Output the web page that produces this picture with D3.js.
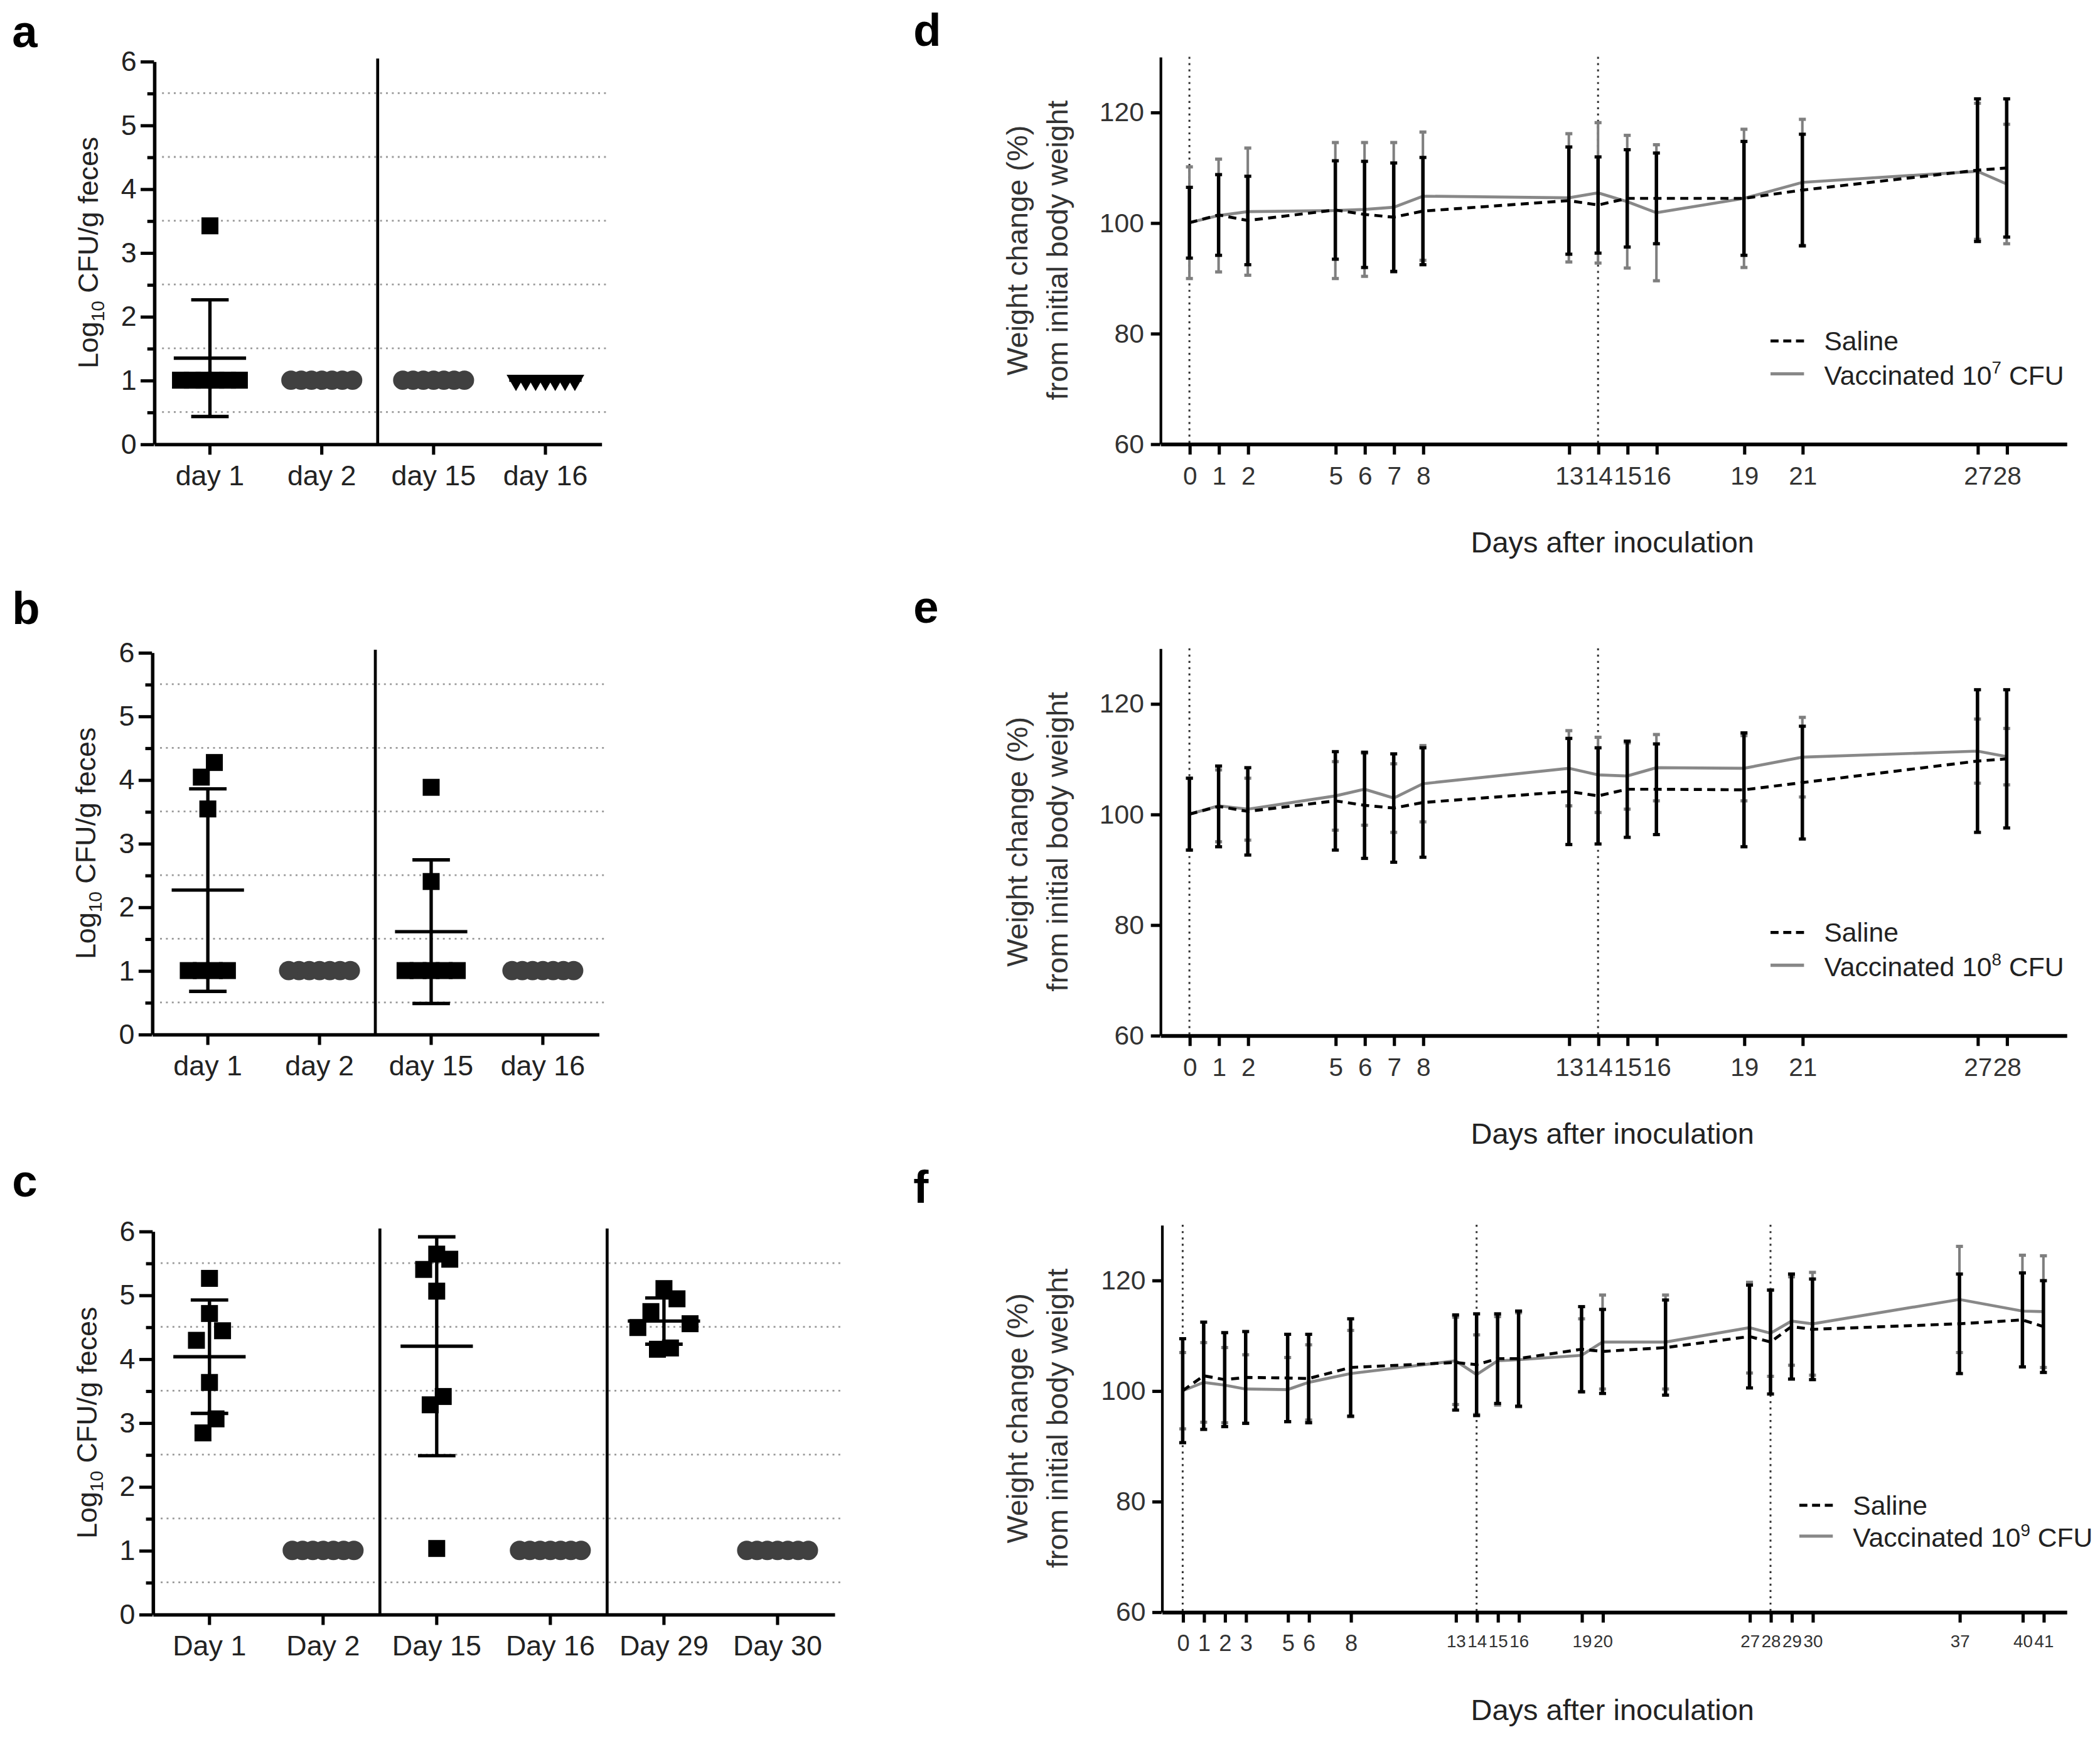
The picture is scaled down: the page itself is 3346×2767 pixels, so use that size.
<!DOCTYPE html>
<html>
<head>
<meta charset="utf-8">
<script src="https://cdn.jsdelivr.net/npm/d3@7"></script>
<style>
  body { margin: 0; background: #fff; }
  text { font-family: "Liberation Sans", Arial, sans-serif; }
</style>
</head>
<body>
<script>
// ---- data: faecal shedding (log10 CFU/g), one array per sampling day ----
var daysAB = ["day 1", "day 2", "day 15", "day 16"];
var daysC = ["Day 1", "Day 2", "Day 15", "Day 16", "Day 29", "Day 30"];

var cfuA = [
  [3.42, 1, 1, 1, 1, 1, 1],
  [1, 1, 1, 1, 1, 1, 1],
  [1, 1, 1, 1, 1, 1, 1],
  [1, 1, 1, 1, 1, 1, 1]
];
var cfuB = [
  [4.27, 4.04, 3.54, 1, 1, 1, 1],
  [1, 1, 1, 1, 1, 1, 1],
  [3.88, 2.40, 1, 1, 1, 1, 1],
  [1, 1, 1, 1, 1, 1, 1]
];
var cfuC = [
  [5.26, 4.71, 4.44, 4.29, 3.63, 3.06, 2.84],
  [1, 1, 1, 1, 1, 1, 1],
  [5.64, 5.56, 5.40, 5.06, 3.41, 3.28, 1.03],
  [1, 1, 1, 1, 1, 1, 1],
  [5.10, 4.94, 4.74, 4.55, 4.49, 4.17, 4.15],
  [1, 1, 1, 1, 1, 1, 1]
];
var markA = ["square", "dot", "dot", "triangle"];
var markB = ["square", "dot", "square", "dot"];
var markC = ["square", "dot", "square", "dot", "square", "dot"];
var cfuTicks = [0, 1, 2, 3, 4, 5, 6];
var cfuGrid = [0.5, 1.5, 2.5, 3.5, 4.5, 5.5];

// ---- data: body weight (% of initial), mean and SD ----
var daysDE = [0, 1, 2, 5, 6, 7, 8, 13, 14, 15, 16, 19, 21, 27, 28];
var daysF = [0, 1, 2, 3, 5, 6, 8, 13, 14, 15, 16, 19, 20, 23, 27, 28, 29, 30, 37, 40, 41];
var tickDaysF = [0, 1, 2, 3, 5, 6, 8, 13, 14, 15, 16, 19, 20, 27, 28, 29, 30, 37, 40, 41];
var weightTicks = [60, 80, 100, 120];

var salineD = [100, 101.4, 100.4, 102.3, 101.5, 101.0, 102.1, 104.0, 103.2, 104.4, 104.4, 104.4, 105.9, 109.5, 109.9];
var salineDsd = [6.4, 7.3, 8.0, 8.9, 9.6, 9.8, 9.7, 9.7, 8.7, 8.8, 8.2, 10.3, 10.1, 12.9, 12.5];
var vaccD = [100, 101.3, 102.0, 102.2, 102.4, 102.8, 104.8, 104.5, 105.4, 103.8, 101.8, 104.4, 107.3, 109.3, 107.0];
var vaccDsd = [10.1, 10.2, 11.5, 12.3, 12.1, 11.7, 11.6, 11.6, 12.7, 12.0, 12.3, 12.5, 11.4, 12.3, 10.8];

var salineE = [100, 101.4, 100.5, 102.4, 101.6, 101.1, 102.1, 104.1, 103.3, 104.5, 104.5, 104.4, 105.7, 109.6, 110.0];
var salineEsd = [6.5, 7.3, 7.9, 8.9, 9.6, 9.8, 9.9, 9.6, 8.7, 8.7, 8.2, 10.3, 10.2, 12.9, 12.5];
var vaccE = [100, 101.5, 100.9, 103.3, 104.5, 102.9, 105.5, 108.3, 107.1, 106.9, 108.4, 108.3, 110.3, 111.4, 110.4];
var vaccEsd = [6.5, 6.5, 5.6, 6.2, 6.5, 6.2, 6.9, 6.8, 6.8, 6.0, 6.0, 5.9, 7.2, 5.8, 5.1];

var salineF = [100, 102.7, 102.0, 102.4, 102.3, 102.2, 104.2, 105.1, 104.7, 105.8, 105.8, 107.5, 107.1, 107.8, 109.8, 108.8, 111.6, 111.1, 112.1, 112.8, 111.6];
var salineFsd = [9.4, 9.7, 8.5, 8.3, 7.9, 8.0, 8.8, 8.6, 9.2, 8.1, 8.6, 7.7, 7.6, 8.6, 9.3, 9.4, 9.5, 9.1, 9.0, 8.5, 8.3];
var vaccF = [100, 101.5, 101.0, 100.3, 100.2, 101.5, 103.1, 105.4, 102.9, 105.4, 105.6, 106.4, 108.8, 108.8, 111.4, 110.4, 112.6, 112.1, 116.5, 114.4, 114.3];
var vaccFsd = [6.9, 7.2, 6.8, 6.2, 5.8, 6.8, 7.8, 7.9, 7.2, 8.0, 8.5, 6.6, 8.5, 8.5, 8.2, 7.8, 8.0, 9.3, 9.6, 10.1, 10.1];

// drawing works in a 1568-wide coordinate space, scaled up to the page
var W = 1568, H = 1296.6;
var svg = d3.select("body").append("svg")
  .attr("width", 3346)
  .attr("height", 2767)
  .attr("viewBox", `0 0 ${W} ${H}`);

function panelLabel(txt, x, y) {
  svg.append("text").attr("x", x).attr("y", y)
    .attr("font-size", 34).attr("font-weight", "bold").text(txt);
}

// spread overlapping points sideways (GraphPad style column scatter)
function spread(vals, y, size, maxSpread) {
  var order = vals.map((v, i) => i).sort((a, b) => vals[b] - vals[a]);
  var groups = [], cur = [];
  order.forEach(function(i) {
    if (cur.length && Math.abs(y(vals[i]) - y(vals[cur[cur.length - 1]])) >= size) {
      groups.push(cur); cur = [];
    }
    cur.push(i);
  });
  if (cur.length) groups.push(cur);
  var off = vals.map(() => 0);
  groups.forEach(function(g) {
    var n = g.length;
    var step = n > 1 ? Math.min(size * 0.75, maxSpread / (n - 1)) : 0;
    g.forEach(function(idx, k) {
      var slot;
      if (n % 2) slot = k === 0 ? 0 : (k % 2 ? 1 : -1) * Math.ceil(k / 2);
      else slot = (k % 2 ? -1 : 1) * (Math.floor(k / 2) + 0.5);
      off[idx] = slot * step;
    });
  });
  return off;
}

function fecesPanel(cfg) {
  var x = d3.scaleBand().domain(cfg.cats).range([cfg.x0, cfg.x1]);
  var y = d3.scaleLinear().domain([0, 6]).range([cfg.yBot, cfg.yTop]);
  var g = svg.append("g");

  // dotted gridlines at half units
  g.selectAll(".grid").data(cfuGrid).join("line")
    .attr("x1", cfg.x0 + 6).attr("x2", cfg.x1 + 6)
    .attr("y1", d => y(d)).attr("y2", d => y(d))
    .attr("stroke", "#9a9a9a").attr("stroke-width", 1.3)
    .attr("stroke-dasharray", "1.4,3");

  // separators between time blocks
  var seps = cfg.cats.filter((c, i) => i > 0 && i % 2 === 0);
  g.selectAll(".sep").data(seps).join("line")
    .attr("x1", d => x(d)).attr("x2", d => x(d))
    .attr("y1", cfg.yTop - 2).attr("y2", cfg.yBot)
    .attr("stroke", "#000").attr("stroke-width", 2.2);

  g.append("g").attr("transform", `translate(0,${cfg.yBot})`)
    .call(d3.axisBottom(x).tickSize(8).tickSizeOuter(0).tickPadding(8));
  g.append("g").attr("transform", `translate(${cfg.x0},0)`)
    .call(d3.axisLeft(y).tickValues(cfuTicks).tickFormat(d3.format("d"))
      .tickSize(10).tickSizeOuter(0).tickPadding(3));
  g.append("g").attr("transform", `translate(${cfg.x0},0)`)
    .call(d3.axisLeft(y).tickValues(cfuGrid).tickSize(5).tickFormat(""))
    .call(a => a.select(".domain").remove());
  g.selectAll(".domain").attr("stroke-width", 2.6);
  g.selectAll(".tick line").attr("stroke-width", 2.4);
  g.selectAll(".tick text").attr("font-size", 21).attr("fill", "#222")
    .attr("font-family", "Liberation Sans, Arial, sans-serif");

  // axis title
  var t = g.append("text")
    .attr("transform", `translate(${cfg.titleX},${(cfg.yTop + cfg.yBot) / 2}) rotate(-90)`)
    .attr("text-anchor", "middle").attr("font-size", 21).attr("fill", "#222");
  t.append("tspan").text("Log");
  t.append("tspan").attr("dy", 5).attr("font-size", 14).text("10");
  t.append("tspan").attr("dy", -5).text(" CFU/g feces");

  // points and mean ± SD
  cfg.values.forEach(function(vals, i) {
    var cx = x(cfg.cats[i]) + x.bandwidth() / 2;
    var mark = cfg.marks[i];
    var colour = mark === "dot" ? "#404040" : "#000";
    var off = spread(vals, y, 13, mark === "dot" ? 46 : 44);
    var sym = mark === "square" ? d3.symbol(d3.symbolSquare, 160)
      : mark === "dot" ? d3.symbol(d3.symbolCircle, 165)
      : d3.symbol(d3.symbolTriangle, 85);
    g.append("g").selectAll("path").data(vals).join("path")
      .attr("d", sym)
      .attr("transform", (d, k) => `translate(${cx + off[k]},${y(d)})` + (mark === "triangle" ? " rotate(180)" : ""))
      .attr("fill", colour);

    var m = d3.mean(vals), sd = d3.deviation(vals);
    var eb = g.append("g").attr("stroke", colour).attr("stroke-width", 2.5);
    eb.append("line").attr("x1", cx - 27).attr("x2", cx + 27)
      .attr("y1", y(m)).attr("y2", y(m));
    if (sd > 0) {
      eb.append("line").attr("x1", cx).attr("x2", cx)
        .attr("y1", y(m - sd)).attr("y2", y(m + sd));
      [m - sd, m + sd].forEach(function(v) {
        eb.append("line").attr("x1", cx - 14).attr("x2", cx + 14)
          .attr("y1", y(v)).attr("y2", y(v));
      });
    }
  });
}

function weightPanel(cfg) {
  var x = d3.scaleLinear().domain(cfg.xDomain).range([cfg.x0, cfg.x1]);
  var y = d3.scaleLinear().domain([60, 130]).range([cfg.yBot, cfg.yTop]);
  var g = svg.append("g");

  g.selectAll(".ref").data(cfg.refDays).join("line")
    .attr("x1", d => x(d)).attr("x2", d => x(d))
    .attr("y1", cfg.yTop).attr("y2", cfg.yBot)
    .attr("stroke", "#333").attr("stroke-width", 1.4)
    .attr("stroke-dasharray", "1.5,3.2");

  var xa = g.append("g").attr("transform", `translate(0,${cfg.yBot})`)
    .call(d3.axisBottom(x).tickValues(cfg.ticks).tickFormat(d3.format("d"))
      .tickSize(8).tickSizeOuter(0).tickPadding(9));
  xa.select(".domain").attr("stroke-width", 2.8);
  xa.selectAll(".tick text").attr("font-size", cfg.tickFont);
  if (cfg.smallFont) {
    // crowded two-digit labels get a smaller size so they fit the day spacing
    xa.selectAll(".tick text").filter(d => d >= 10).attr("font-size", cfg.smallFont);
  }

  var ya = g.append("g").attr("transform", `translate(${cfg.x0},0)`)
    .call(d3.axisLeft(y).tickValues(weightTicks).tickSize(7).tickSizeOuter(0).tickPadding(5));
  ya.select(".domain").attr("stroke-width", 2);
  ya.selectAll(".tick text").attr("font-size", 20);
  g.selectAll(".tick line").attr("stroke-width", 2.4);
  g.selectAll(".tick text").attr("fill", "#333")
    .attr("font-family", "Liberation Sans, Arial, sans-serif");

  // titles
  var cy = (cfg.yTop + cfg.yBot) / 2;
  g.append("text").attr("transform", `translate(767,${cy}) rotate(-90)`)
    .attr("text-anchor", "middle").attr("font-size", 22).attr("fill", "#333")
    .text("Weight change (%)");
  g.append("text").attr("transform", `translate(797,${cy}) rotate(-90)`)
    .attr("text-anchor", "middle").attr("font-size", 22).attr("fill", "#333")
    .text("from initial body weight");
  g.append("text").attr("x", 1204).attr("y", cfg.yBot + 81)
    .attr("text-anchor", "middle").attr("font-size", 22).attr("fill", "#222")
    .text("Days after inoculation");

  function series(means, sds, colour, barWidth, dash) {
    var s = g.append("g");
    cfg.days.forEach(function(d, i) {
      var lo = y(means[i] - sds[i]), hi = y(means[i] + sds[i]);
      s.append("line").attr("x1", x(d)).attr("x2", x(d)).attr("y1", lo).attr("y2", hi)
        .attr("stroke", colour).attr("stroke-width", barWidth);
      [lo, hi].forEach(function(v) {
        s.append("line").attr("x1", x(d) - 2.6).attr("x2", x(d) + 2.6)
          .attr("y1", v).attr("y2", v)
          .attr("stroke", colour).attr("stroke-width", 2.4);
      });
    });
    var line = d3.line().x((d, i) => x(cfg.days[i])).y(d => y(d));
    s.append("path").datum(means).attr("d", line)
      .attr("fill", "none").attr("stroke", dash ? "#000" : "#888")
      .attr("stroke-width", 2.2)
      .attr("stroke-dasharray", dash ? "6,4" : null);
  }
  series(cfg.vacc, cfg.vaccSd, "#7f7f7f", 1.9, false);
  series(cfg.saline, cfg.salineSd, "#000", 2.6, true);

  // legend
  var lg = g.append("g");
  var r1 = cfg.yBot + cfg.legDy, r2 = r1 + cfg.legGap;
  lg.append("line").attr("x1", cfg.legX).attr("x2", cfg.legX + 25).attr("y1", r1).attr("y2", r1)
    .attr("stroke", "#000").attr("stroke-width", 2.2).attr("stroke-dasharray", "6,3.5");
  lg.append("line").attr("x1", cfg.legX).attr("x2", cfg.legX + 25).attr("y1", r2).attr("y2", r2)
    .attr("stroke", "#888").attr("stroke-width", 2.4);
  lg.append("text").attr("x", cfg.legX + 40).attr("y", r1 + 7)
    .attr("font-size", 20).attr("fill", "#222").text("Saline");
  var vt = lg.append("text").attr("x", cfg.legX + 40).attr("y", r2 + 8)
    .attr("font-size", 20).attr("fill", "#222");
  vt.append("tspan").text("Vaccinated 10");
  vt.append("tspan").attr("dy", -8).attr("font-size", 13).text(cfg.dose);
  vt.append("tspan").attr("dy", 8).text(" CFU");
}

// ---- panels a–c ----
panelLabel("a", 9, 35);
fecesPanel({ cats: daysAB, values: cfuA, marks: markA, x0: 115, x1: 449, yTop: 45.7, yBot: 331.4, titleX: 73 });
panelLabel("b", 9, 466);
fecesPanel({ cats: daysAB, values: cfuB, marks: markB, x0: 113.5, x1: 447, yTop: 487, yBot: 772, titleX: 71 });
panelLabel("c", 9, 893);
fecesPanel({ cats: daysC, values: cfuC, marks: markC, x0: 114, x1: 623, yTop: 919, yBot: 1205, titleX: 72 });

// ---- panels d–f ----
panelLabel("d", 682, 34);
weightPanel({ days: daysDE, ticks: daysDE, refDays: [0, 14], xDomain: [-1, 30.05], x0: 866.3, x1: 1543,
  yTop: 42.4, yBot: 331.3, saline: salineD, salineSd: salineDsd, vacc: vaccD, vaccSd: vaccDsd,
  dose: "7", legX: 1322, legDy: -76.8, legGap: 24.5, tickFont: 19, smallFont: 0 });
panelLabel("e", 682, 465);
weightPanel({ days: daysDE, ticks: daysDE, refDays: [0, 14], xDomain: [-1, 30.05], x0: 866.3, x1: 1543,
  yTop: 483.9, yBot: 772.8, saline: salineE, salineSd: salineEsd, vacc: vaccE, vaccSd: vaccEsd,
  dose: "8", legX: 1322, legDy: -76.8, legGap: 24.5, tickFont: 19, smallFont: 0 });
panelLabel("f", 682, 898);
weightPanel({ days: daysF, ticks: tickDaysF, refDays: [0, 14, 28], xDomain: [-1, 42.1], x0: 867.4, x1: 1543,
  yTop: 914.3, yBot: 1203.2, saline: salineF, salineSd: salineFsd, vacc: vaccF, vaccSd: vaccFsd,
  dose: "9", legX: 1343.5, legDy: -79.5, legGap: 23, tickFont: 17, smallFont: 13 });
</script>
</body>
</html>
